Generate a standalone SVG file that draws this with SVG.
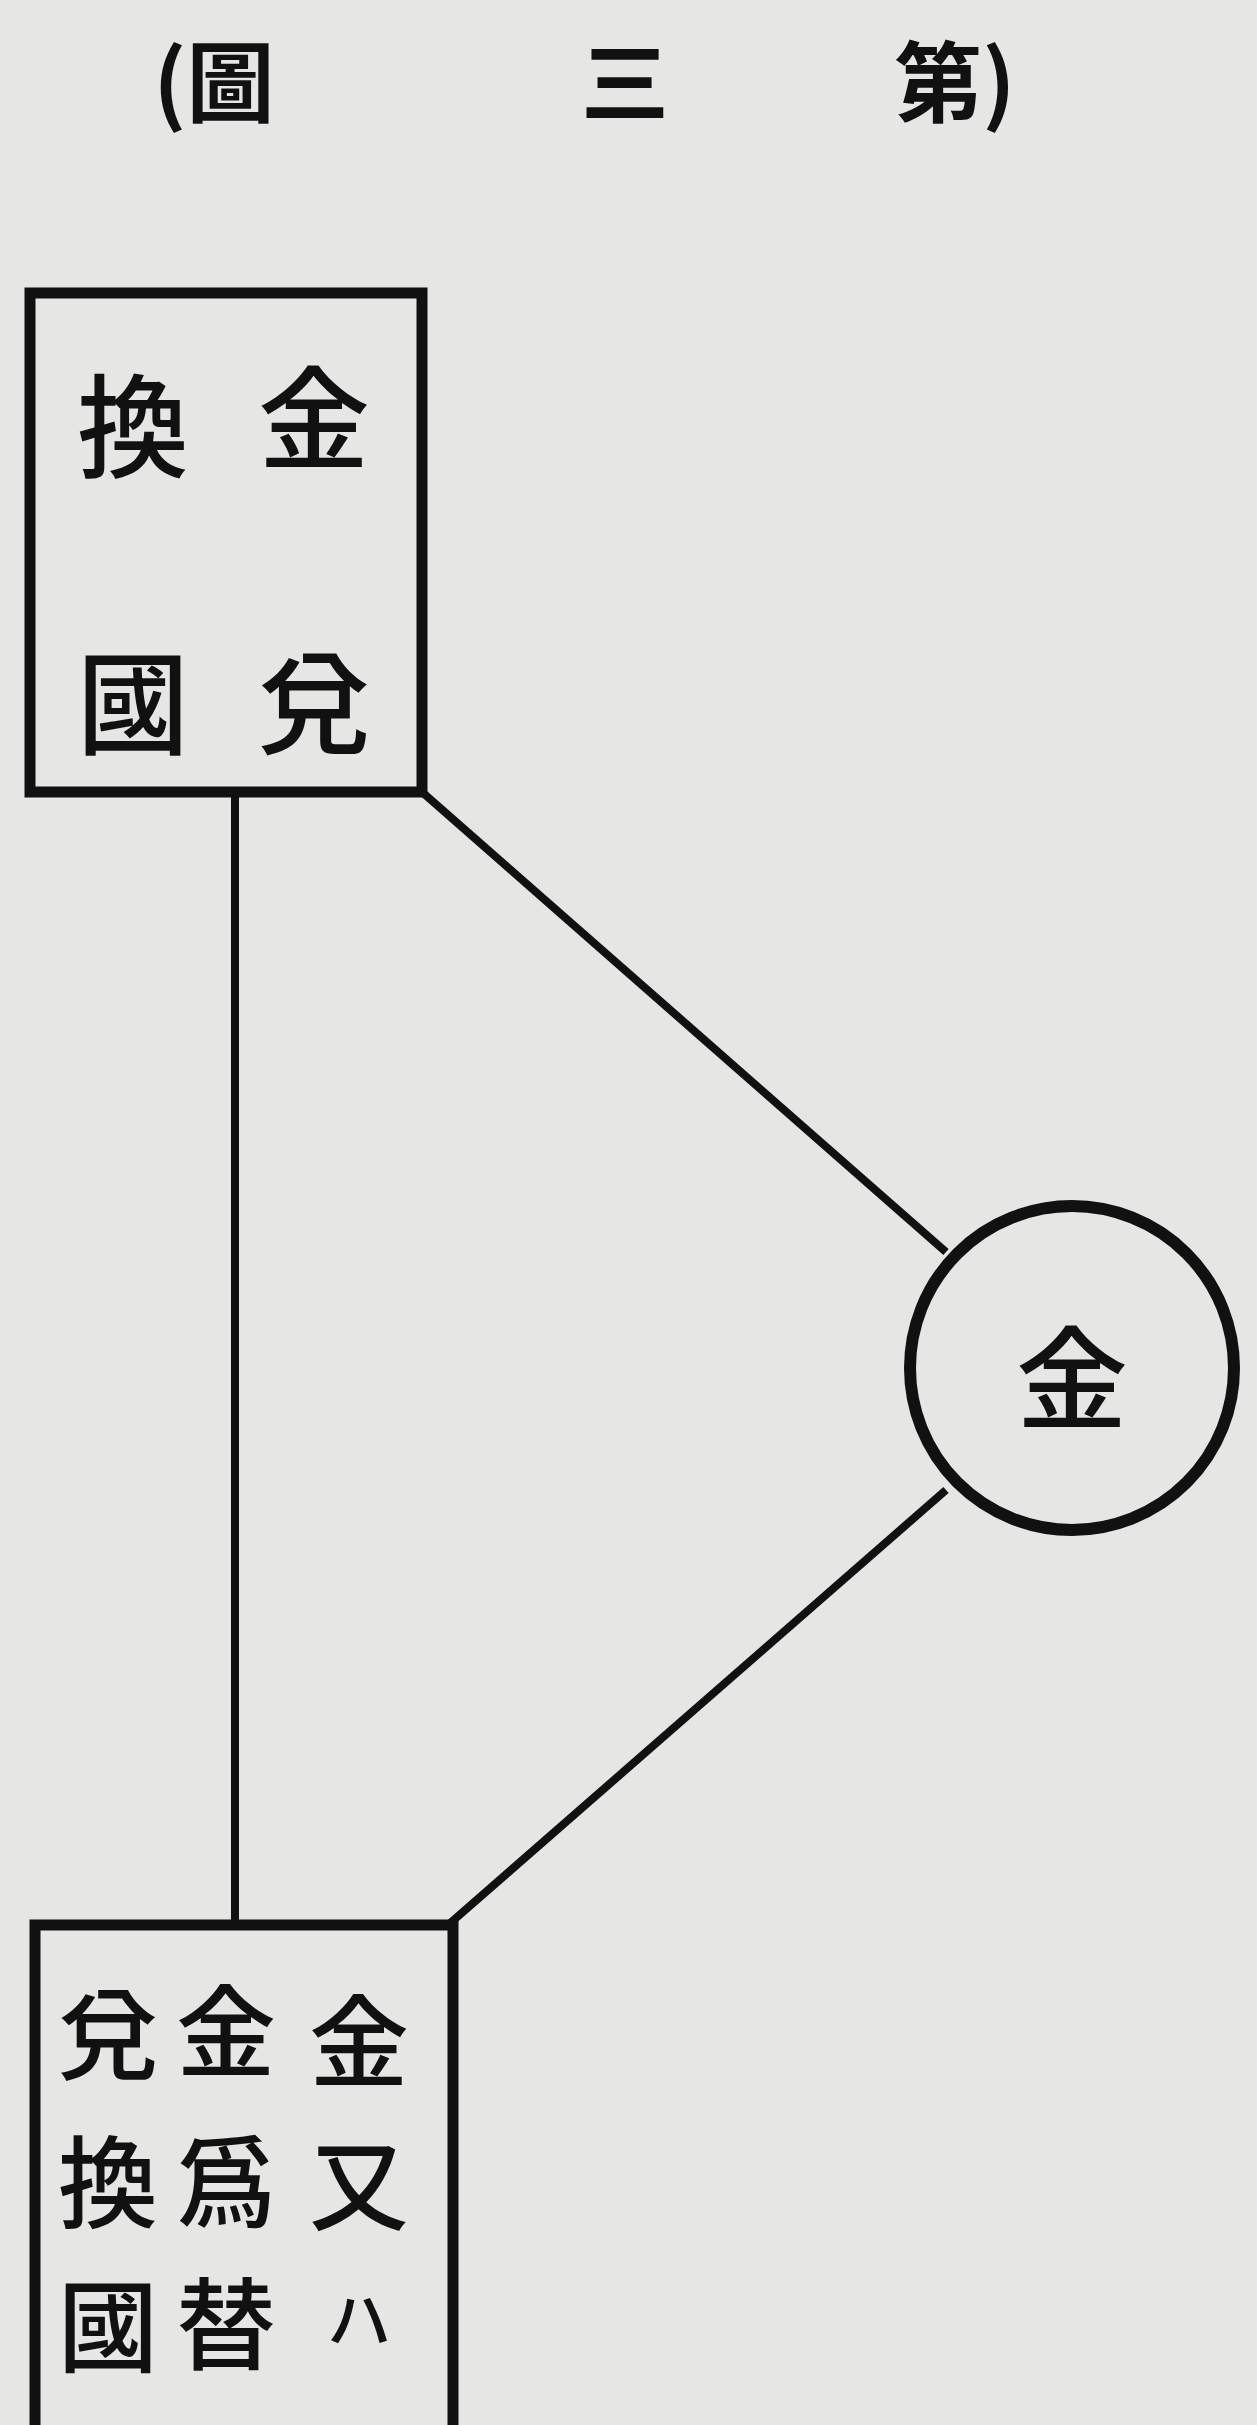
<svg xmlns="http://www.w3.org/2000/svg" width="1257" height="2425" viewBox="0 0 1257 2425">
<style>
.bg{fill:#e6e6e4}
.box{fill:none;stroke:#111;stroke-width:11}
.ln{fill:none;stroke:#111;stroke-width:8}
.t{font-family:"Noto Sans CJK JP","Noto Sans CJK TC",sans-serif;fill:#111;text-anchor:middle;dominant-baseline:central;font-weight:500}
.big{font-size:112px}
.mid{font-size:100px}
.ttl{font-size:88px;font-weight:bold}
</style>
<rect class="bg" x="0" y="0" width="1257" height="2425"/>
<g id="title">
<text class="t ttl" x="214" y="76">(圖</text>
<text class="t ttl" x="625" y="76">三</text>
<text class="t ttl" x="955" y="76">第)</text>
</g>
<g id="connectors">
<line class="ln" x1="235" y1="792" x2="235" y2="1925"/>
<line class="ln" x1="422" y1="792" x2="946" y2="1252"/>
<line class="ln" x1="946" y1="1490" x2="448" y2="1925"/>
</g>
<g id="node-top">
<rect class="box" x="30" y="293" width="392" height="499"/>
<text class="t big" x="314" y="412">金</text>
<text class="t big" x="314" y="697">兌</text>
<text class="t big" x="133" y="420">換</text>
<text class="t big" x="133" y="697">國</text>
</g>
<g id="node-gold">
<circle cx="1072" cy="1368" r="162" fill="none" stroke="#111" stroke-width="12"/>
<text class="t big" x="1072" y="1372">金</text>
</g>
<g id="node-bottom">
<rect class="box" x="35" y="1925" width="418" height="560"/>
<text class="t mid" x="359" y="2035">金</text>
<text class="t mid" x="359" y="2178">又</text>
<text class="t" style="font-size:64px" x="359" y="2315">ハ</text>
<text class="t mid" x="226" y="2025">金</text>
<text class="t mid" x="226" y="2175">爲</text>
<text class="t mid" x="226" y="2318">替</text>
<text class="t mid" x="108" y="2028">兌</text>
<text class="t mid" x="108" y="2176">換</text>
<text class="t mid" x="108" y="2320">國</text>
</g>
</svg>
